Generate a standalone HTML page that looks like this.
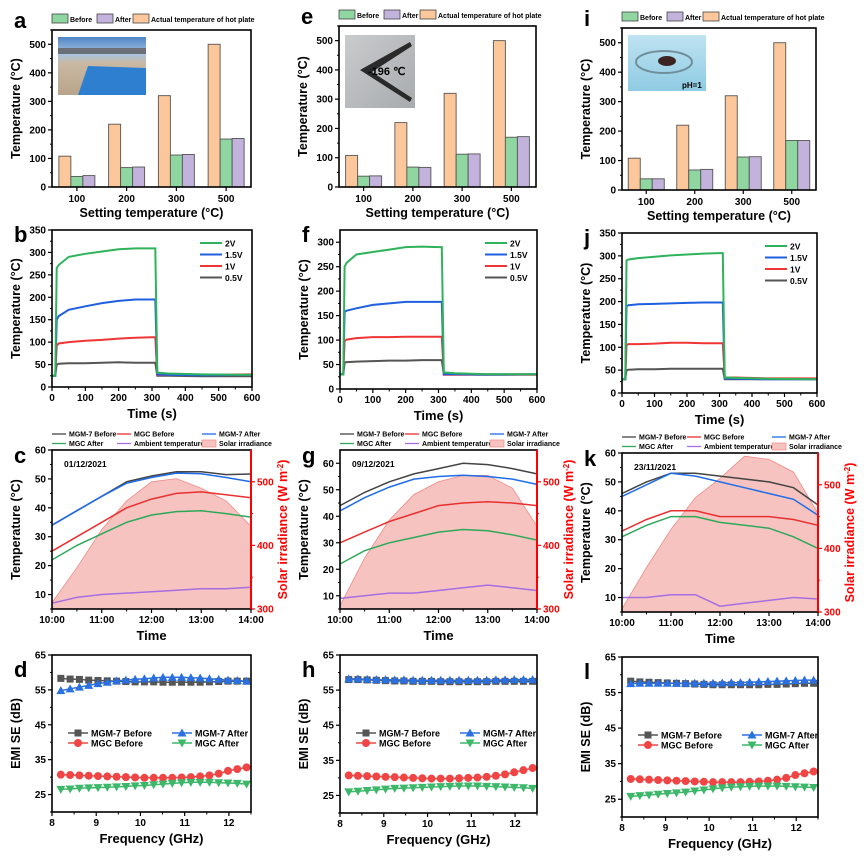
<!DOCTYPE html>
<html><head><meta charset="utf-8"><style>
body{margin:0;background:#fff}
svg{display:block;font-family:"Liberation Sans",sans-serif;font-weight:bold}
</style></head><body>
<svg id="fig" width="866" height="856" viewBox="0 0 866 856"
 xmlns="http://www.w3.org/2000/svg">
<defs>
<linearGradient id="skyA" x1="0" y1="0" x2="0" y2="1"><stop offset="0" stop-color="#4f86c6"/><stop offset="0.3" stop-color="#a9c4e0"/><stop offset="0.45" stop-color="#c9b9a3"/><stop offset="1" stop-color="#b8a48a"/></linearGradient>
<linearGradient id="grayE" x1="0" y1="0" x2="1" y2="1"><stop offset="0" stop-color="#c9cbcd"/><stop offset="1" stop-color="#a8abae"/></linearGradient>
<linearGradient id="blueI" x1="0" y1="0" x2="0" y2="1"><stop offset="0" stop-color="#bfe3f2"/><stop offset="1" stop-color="#8fcbe3"/></linearGradient>
</defs>
</svg>
<script>
const ns='http://www.w3.org/2000/svg';
const S=document.getElementById('fig');
// ---------- data ----------
const barCats=['100','200','300','500'];
const aActual=[108,220,320,500], aBefore=[37,68,112,168], aAfter=[40,70,114,170];
const eActual=[108,220,320,500], eBefore=[37,68,112,170], eAfter=[38,67,113,172];
const iActual=[108,220,320,500], iBefore=[38,68,112,168], iAfter=[38,70,113,168];

const tHeat=[0,10,14,20,50,100,150,200,250,300,310,316,350,450,600];
const b2V =[25,25,265,272,290,297,302,307,309,309,309,32,30,28,27];
const b15V=[25,25,150,158,172,180,187,192,195,195,195,28,27,26,27];
const b1V =[25,25,92,97,100,103,105,108,110,111,111,27,27,27,28];
const b05V=[25,25,50,52,53,53,54,55,54,54,54,25,25,24,24];
const f2V =[30,30,250,258,275,280,285,290,291,290,290,34,32,30,30];
const f15V=[30,30,158,160,165,172,175,178,178,178,178,30,30,29,30];
const f1V =[30,30,98,101,104,106,106,107,107,107,107,29,29,29,29];
const f05V=[30,30,54,55,56,57,58,58,59,59,59,30,30,30,30];
const j2V =[30,30,290,292,295,298,301,303,305,306,306,34,33,31,30];
const j15V=[30,30,190,192,194,195,196,197,198,198,198,32,31,30,30];
const j1V =[30,30,105,107,107,108,110,110,109,109,109,34,34,32,32];
const j05V=[30,30,50,51,52,52,53,53,53,53,53,30,30,30,30];

const tDay=[10,10.5,11,11.5,12,12.5,13,13.5,14];
const cM7B=[34,39,44,49,51,52.5,52.5,51.5,51.7];
const cM7A=[34,39,44,48.5,50.5,52,51.8,50.5,49];
const cMGB=[25,30,35,40,43,45,45.5,44.5,43.5];
const cMGA=[22,27,31,35,37.5,38.7,39,38,36.8];
const cAmb=[7,9,10,10.5,11,11.5,12,12,12.5];
const cSol=[310,365,425,470,500,505,490,470,430];
const gM7B=[44,49,53,56,58,60,59.5,58,56];
const gM7A=[42,47,51,54,55,55.5,55,54,52];
const gMGB=[30,34,38,41,44,45,45.5,45,44];
const gMGA=[22,27,30,32,34,35,34.5,33,31];
const gAmb=[9,10,11,11,12,13,14,13,12];
const gSol=[305,380,440,480,500,510,510,490,430];
const kM7B=[46,50,53,53,52,51,50,48,42];
const kM7A=[45,49,53,52,50,48,46,44,38.5];
const kMGB=[33,37,40,40,38,38,38,37,35];
const kMGA=[31,35,38,38,36,35,34,31,27];
const kAmb=[10,10,11,11,7,8,9,10,9.5];
const kSol=[305,370,430,480,510,545,540,520,455];

const freq=[8.2,8.41,8.62,8.83,9.04,9.25,9.46,9.67,9.88,10.09,10.3,10.51,10.72,10.93,11.14,11.35,11.56,11.77,11.98,12.19,12.4];
const dM7B=[58.3,58.1,58,57.8,57.7,57.6,57.5,57.4,57.3,57.3,57.3,57.2,57.2,57.2,57.2,57.2,57.3,57.4,57.5,57.5,57.5];
const dM7A=[54.8,55.3,55.8,56.3,56.8,57.2,57.6,57.8,58,58.2,58.4,58.6,58.6,58.6,58.5,58.4,58.2,58,57.8,57.7,57.5];
const dMGB=[30.7,30.6,30.5,30.4,30.3,30.2,30.1,30,29.9,29.8,29.8,29.8,29.8,29.9,30,30.2,30.5,31,31.8,32.3,32.8];
const dMGA=[26.5,26.6,26.8,26.9,27,27.1,27.2,27.3,27.5,27.6,27.8,28,28.2,28.4,28.5,28.5,28.5,28.4,28.3,28.2,28];
const hM7B=[58,58,57.9,57.8,57.7,57.6,57.6,57.5,57.5,57.5,57.4,57.4,57.4,57.4,57.4,57.4,57.5,57.5,57.5,57.5,57.5];
const hM7A=[58.2,58.2,58.1,58,58,57.9,57.9,57.8,57.8,57.8,57.8,57.8,57.8,57.8,57.8,57.8,57.9,57.9,58,58,58];
const hMGB=[30.7,30.6,30.5,30.4,30.3,30.2,30.1,30,29.9,29.8,29.8,29.8,29.9,30,30.1,30.3,30.6,31,31.6,32.2,32.8];
const hMGA=[26,26.2,26.4,26.6,26.8,27,27.1,27.2,27.3,27.4,27.5,27.6,27.7,27.7,27.7,27.6,27.5,27.4,27.3,27.2,27];
const lM7B=[58.2,58,57.9,57.8,57.7,57.6,57.5,57.4,57.3,57.2,57.2,57.2,57.2,57.2,57.2,57.3,57.3,57.4,57.5,57.6,57.6];
const lM7A=[57.5,57.6,57.6,57.6,57.6,57.6,57.6,57.6,57.6,57.6,57.7,57.8,57.8,57.9,58,58.1,58.2,58.3,58.4,58.5,58.5];
const lMGB=[30.7,30.6,30.5,30.4,30.3,30.2,30.1,30,29.9,29.8,29.8,29.8,29.8,29.9,30,30.2,30.5,31,31.8,32.3,32.8];
const lMGA=[25.8,26,26.2,26.4,26.6,26.8,27,27.3,27.6,27.9,28.2,28.4,28.5,28.6,28.7,28.7,28.7,28.6,28.5,28.4,28.3];

// ---------- helpers ----------
function mk(tag,attrs,name){
  const e=document.createElementNS(ns,tag);
  for(const k in attrs) e.setAttribute(k,attrs[k]);
  
  
  S.appendChild(e);
  return e;
}
function txt(x,y,s,size,name,opts){
  opts=opts||{};
  const t=mk('text',{x:x,y:y,'font-size':size,'text-anchor':opts.anchor||'start',fill:opts.fill||'#000'},name);
  if(opts.rot) t.setAttribute('transform','rotate(-90 '+x+' '+y+')');
  t.textContent=s;
  return t;
}
function lin(d0,d1,p0,p1){return v=>p0+(v-d0)/(d1-d0)*(p1-p0);}
function frame(B,name){mk('rect',{x:B.x,y:B.y,width:B.w,height:B.h,fill:'none',stroke:'#000','stroke-width':1.6},name);}
function yAxis(B,Y,ticks,minor,fmt,side,color){
  const x0= side==='r'? B.x+B.w : B.x;
  const dir= side==='r'? 1 : -1;
  ticks.forEach(v=>{
    mk('line',{x1:x0,x2:x0+dir*4,y1:Y(v),y2:Y(v),stroke:color||'#000','stroke-width':1.2},'y-tick');
    txt(x0+dir*6,Y(v)+3.5,fmt?fmt(v):String(v),10,'y-tick-label',{anchor:side==='r'?'start':'end',fill:color});
  });
  (minor||[]).forEach(v=>mk('line',{x1:x0,x2:x0+dir*2,y1:Y(v),y2:Y(v),stroke:color||'#000','stroke-width':1},'y-minor-tick'));
}
function xAxis(B,X,ticks,minor,fmt){
  const y0=B.y+B.h;
  ticks.forEach(v=>{
    mk('line',{x1:X(v),x2:X(v),y1:y0,y2:y0+4,stroke:'#000','stroke-width':1.2},'x-tick');
    txt(X(v),y0+14,fmt?fmt(v):String(v),10,'x-tick-label',{anchor:'middle'});
  });
  (minor||[]).forEach(v=>mk('line',{x1:X(v),x2:X(v),y1:y0,y2:y0+2.5,stroke:'#000','stroke-width':1},'x-minor-tick'));
}
function path(xs,ys,X,Y){return xs.map((v,i)=>(i?'L':'M')+X(v).toFixed(1)+' '+Y(ys[i]).toFixed(1)).join(' ');}
const GREEN='#8fd6a0',PURP='#c3b3dc',ORNG='#fcc89b';

// ---------- bar panels ----------
function barPanel(letter,B,act,bef,aft){
  txt(B.x-38,B.y-2,letter,22,'panel-label-'+letter);
  // legend
  const ly=B.y-16;
  mk('rect',{x:B.x,y:ly,width:16,height:9,fill:GREEN,stroke:'#444','stroke-width':0.8},'legend-swatch-before');
  txt(B.x+18,ly+8,'Before',7,'legend-before');
  mk('rect',{x:B.x+45,y:ly,width:16,height:9,fill:PURP,stroke:'#444','stroke-width':0.8},'legend-swatch-after');
  txt(B.x+63,ly+8,'After',7,'legend-after');
  mk('rect',{x:B.x+81,y:ly,width:16,height:9,fill:ORNG,stroke:'#444','stroke-width':0.8},'legend-swatch-actual');
  txt(B.x+99,ly+8,'Actual temperature of hot plate',7,'legend-actual');
  const Y=lin(0,550,B.y+B.h,B.y);
  const cx=i=>B.x+B.w*(i+0.5)/4;
  barCats.forEach((c,i)=>{
    const c0=cx(i);
    mk('rect',{x:c0-18,y:Y(act[i]),width:12,height:Y(0)-Y(act[i]),fill:ORNG,stroke:'#555','stroke-width':0.9},'bar-actual-'+c);
    mk('rect',{x:c0-6,y:Y(bef[i]),width:12,height:Y(0)-Y(bef[i]),fill:GREEN,stroke:'#555','stroke-width':0.9},'bar-before-'+c);
    mk('rect',{x:c0+6,y:Y(aft[i]),width:12,height:Y(0)-Y(aft[i]),fill:PURP,stroke:'#555','stroke-width':0.9},'bar-after-'+c);
    mk('line',{x1:c0,x2:c0,y1:B.y+B.h,y2:B.y+B.h+4,stroke:'#000','stroke-width':1.2},'x-tick');
    txt(c0,B.y+B.h+15,c,10,'x-tick-label',{anchor:'middle'});
  });
  frame(B,'plot-frame');
  yAxis(B,Y,[0,100,200,300,400,500],[50,150,250,350,450,550]);
  txt(B.x+B.w/2,B.y+B.h+30,'Setting temperature (°C)',12.5,'x-axis-title',{anchor:'middle'});
  txt(B.x-32,B.y+B.h/2,'Temperature (°C)',12.5,'y-axis-title',{anchor:'middle',rot:1});
}
// ---------- heating panels ----------
function heatPanel(letter,B,ymax,series){
  txt(B.x-38,B.y+12,letter,22,'panel-label-'+letter);
  const X=lin(0,600,B.x,B.x+B.w), Y=lin(0,ymax,B.y+B.h,B.y);
  const cols=['#2fb35a','#1f5fe0','#f03535','#555555'], labs=['2V','1.5V','1V','0.5V'];
  for(let k=3;k>=0;k--) mk('path',{d:path(tHeat,series[k],X,Y),fill:'none',stroke:cols[k],'stroke-width':2},'line-'+labs[k]);
  labs.forEach((l,k)=>{
    const yy=B.y+13+k*11.5;
    mk('line',{x1:B.x+B.w-52,x2:B.x+B.w-30,y1:yy,y2:yy,stroke:cols[k],'stroke-width':2},'legend-line-'+l);
    txt(B.x+B.w-27,yy+3.5,l,8.5,'legend-'+l);
  });
  frame(B,'plot-frame');
  const yt=[];for(let v=0;v<=ymax;v+=50)yt.push(v);
  yAxis(B,Y,yt,yt.map(v=>v+25).filter(v=>v<ymax));
  xAxis(B,X,[0,100,200,300,400,500,600],[50,150,250,350,450,550]);
  txt(B.x+B.w/2,B.y+B.h+31,'Time (s)',13,'x-axis-title',{anchor:'middle'});
  txt(B.x-32,B.y+B.h/2,'Temperature (°C)',12.5,'y-axis-title',{anchor:'middle',rot:1});
}
// ---------- outdoor panels ----------
function dayPanel(letter,B,ymin,ymax,date,m7b,m7a,mgb,mga,amb,sol){
  txt(B.x-38,B.y+13,letter,22,'panel-label-'+letter);
  const X=lin(10,14,B.x,B.x+B.w), Y=lin(ymin,ymax,B.y+B.h,B.y), Y2=lin(300,550,B.y+B.h,B.y);
  const sp=path(tDay,sol,X,Y2)+' L'+X(14)+' '+(B.y+B.h)+' L'+X(10)+' '+(B.y+B.h)+' Z';
  mk('path',{d:sp,fill:'#f6c3c0',stroke:'#f08a86','stroke-width':0.8},'solar-irradiance-area');
  mk('path',{d:path(tDay,amb,X,Y),fill:'none',stroke:'#a66ee0','stroke-width':1.5},'line-ambient');
  mk('path',{d:path(tDay,mga,X,Y),fill:'none',stroke:'#2ea85a','stroke-width':1.5},'line-mgc-after');
  mk('path',{d:path(tDay,mgb,X,Y),fill:'none',stroke:'#e83030','stroke-width':1.5},'line-mgc-before');
  mk('path',{d:path(tDay,m7b,X,Y),fill:'none',stroke:'#444','stroke-width':1.5},'line-mgm7-before');
  mk('path',{d:path(tDay,m7a,X,Y),fill:'none',stroke:'#1f6de8','stroke-width':1.5},'line-mgm7-after');
  // legend
  const L=[['MGM-7 Before','#444',0,0],['MGC Before','#e83030',1,0],['MGM-7 After','#1f6de8',2,0],['MGC After','#2ea85a',0,1],['Ambient temperature','#a66ee0',1,1]];
  const colx=[B.x,B.x+65,B.x+150];
  L.forEach(e=>{
    const yy=B.y-16+e[3]*9.5;
    mk('line',{x1:colx[e[2]],x2:colx[e[2]]+14,y1:yy,y2:yy,stroke:e[1],'stroke-width':1.3},'legend-line');
    txt(colx[e[2]]+17,yy+2.5,e[0],7,'legend-entry');
  });
  mk('rect',{x:colx[2],y:B.y-10,width:14,height:7,fill:'#f6c3c0',stroke:'#f08a86','stroke-width':0.7},'legend-swatch-solar');
  txt(colx[2]+17,B.y-4,'Solar irradiance',7,'legend-entry');
  txt(B.x+12,B.y+17,date,8.5,'date-label');
  frame(B,'plot-frame');
  mk('line',{x1:B.x+B.w,x2:B.x+B.w,y1:B.y,y2:B.y+B.h,stroke:'#f00','stroke-width':2},'right-axis-line');
  const yt=[];for(let v=10;v<=ymax;v+=10)yt.push(v);
  const ym=[];for(let v=ymin;v<ymax;v+=10)ym.push(v);
  yAxis(B,Y,yt,ym);
  yAxis(B,Y2,[300,400,500],[350,450],null,'r','#f00');
  xAxis(B,X,[10,11,12,13,14],[10.5,11.5,12.5,13.5],v=>v+':00');
  txt(B.x+B.w/2,B.y+B.h+31,'Time',13,'x-axis-title',{anchor:'middle'});
  txt(B.x-32,B.y+B.h/2,'Temperature (°C)',12.5,'y-axis-title',{anchor:'middle',rot:1});
  const t=txt(B.x+B.w+36,B.y+B.h/2,'Solar irradiance (W m',12.5,'y2-axis-title',{anchor:'middle',rot:1,fill:'#f00'});
  const sup=document.createElementNS(ns,'tspan');sup.setAttribute('font-size','8');sup.setAttribute('dy','-4');sup.textContent='-2';t.appendChild(sup);
  const cl=document.createElementNS(ns,'tspan');cl.setAttribute('dy','4');cl.textContent=')';t.appendChild(cl);
}
// ---------- EMI panels ----------
function marker(type,x,y,c){
  if(type==='sq') return mk('rect',{x:x-3.5,y:y-3.5,width:7,height:7,fill:c},'marker-square');
  if(type==='ci') return mk('circle',{cx:x,cy:y,r:4,fill:c},'marker-circle');
  if(type==='up') return mk('path',{d:`M${x} ${y-4.5}L${x+4.5} ${y+3.5}L${x-4.5} ${y+3.5}Z`,fill:c},'marker-triangle-up');
  return mk('path',{d:`M${x} ${y+4.5}L${x+4.5} ${y-3.5}L${x-4.5} ${y-3.5}Z`,fill:c},'marker-triangle-down');
}
function emiPanel(letter,B,m7b,m7a,mgb,mga){
  txt(B.x-38,B.y+22,letter,22,'panel-label-'+letter);
  const X=lin(8,12.5,B.x,B.x+B.w), Y=lin(20,65,B.y+B.h,B.y);
  const S4=[[m7b,'#555','sq','MGM-7 Before'],[mgb,'#f04545','ci','MGC Before'],[mga,'#3db86a','dn','MGC After'],[m7a,'#2b70e0','up','MGM-7 After']];
  S4.forEach(s=>{
    mk('path',{d:path(freq,s[0],X,Y),fill:'none',stroke:s[1],'stroke-width':1.5},'line-'+s[3]);
    freq.forEach((f,i)=>marker(s[2],X(f),Y(s[0][i]),s[1]));
  });
  const leg=[[0,0,'#555','sq','MGM-7 Before'],[1,0,'#2b70e0','up','MGM-7 After'],[0,1,'#f04545','ci','MGC Before'],[1,1,'#3db86a','dn','MGC After']];
  leg.forEach(e=>{
    const lx=B.x+16+e[0]*104, yy=B.y+78+e[1]*10;
    mk('line',{x1:lx,x2:lx+20,y1:yy,y2:yy,stroke:e[2],'stroke-width':1.5},'legend-line');
    marker(e[3],lx+10,yy,e[2]);
    txt(lx+23,yy+3.5,e[4],9,'legend-entry');
  });
  frame(B,'plot-frame');
  yAxis(B,Y,[25,35,45,55,65],[20,30,40,50,60]);
  xAxis(B,X,[8,9,10,11,12],[8.5,9.5,10.5,11.5,12.5]);
  txt(B.x+B.w/2,B.y+B.h+31,'Frequency (GHz)',13,'x-axis-title',{anchor:'middle'});
  txt(B.x-32,B.y+B.h/2,'EMI SE (dB)',12.5,'y-axis-title',{anchor:'middle',rot:1});
}

// ---------- build ----------
barPanel('a',{x:52,y:30,w:199,h:157},aActual,aBefore,aAfter);
barPanel('e',{x:339,y:26,w:197,h:161},eActual,eBefore,eAfter);
barPanel('i',{x:622,y:28,w:194,h:162},iActual,iBefore,iAfter);
heatPanel('b',{x:52,y:230,w:200,h:157},350,[b2V,b15V,b1V,b05V]);
heatPanel('f',{x:340,y:230,w:197,h:159},325,[f2V,f15V,f1V,f05V]);
heatPanel('j',{x:622,y:233,w:195,h:160},350,[j2V,j15V,j1V,j05V]);
dayPanel('c',{x:52,y:450,w:199,h:159},5,60,'01/12/2021',cM7B,cM7A,cMGB,cMGA,cAmb,cSol);
dayPanel('g',{x:340,y:450,w:197,h:159},5,65,'09/12/2021',gM7B,gM7A,gMGB,gMGA,gAmb,gSol);
dayPanel('k',{x:622,y:453,w:196,h:159},5,60,'23/11/2021',kM7B,kM7A,kMGB,kMGA,kAmb,kSol);
emiPanel('d',{x:52,y:655,w:199,h:157},dM7B,dM7A,dMGB,dMGA);
emiPanel('h',{x:340,y:655,w:197,h:158},hM7B,hM7A,hMGB,hMGA);
emiPanel('l',{x:622,y:657,w:196,h:160},lM7B,lM7A,lMGB,lMGA);

// ---------- insets ----------
mk('rect',{x:58,y:37,width:88,height:58,fill:'url(#skyA)'},'inset-photo-rooftop');
mk('rect',{x:58,y:48,width:88,height:6,fill:'#6a6f78'},'inset-buildings');
mk('path',{d:'M78 95 L88 66 L146 68 L146 95 Z',fill:'#2f7fd0'},'inset-blue-panel');
mk('rect',{x:345,y:35,width:70,height:73,fill:'url(#grayE)'},'inset-photo-liquid-nitrogen');
mk('path',{d:'M360 70 L410 42 L412 46 L372 72 L412 98 L410 102 Z',fill:'#2a2a2a'},'inset-sample');
txt(368,75,'-196 ℃',11,'inset-label-temp',{});
mk('rect',{x:628,y:35,width:78,height:56,fill:'url(#blueI)'},'inset-photo-acid');
mk('ellipse',{cx:664,cy:62,rx:28,ry:11,fill:'none',stroke:'#6f8f9a','stroke-width':2},'inset-petri-dish');
mk('ellipse',{cx:667,cy:61,rx:9,ry:5,fill:'#3a2522'},'inset-sample-i');
txt(682,88,'pH=1',8,'inset-label-ph');
</script>
</body></html>
